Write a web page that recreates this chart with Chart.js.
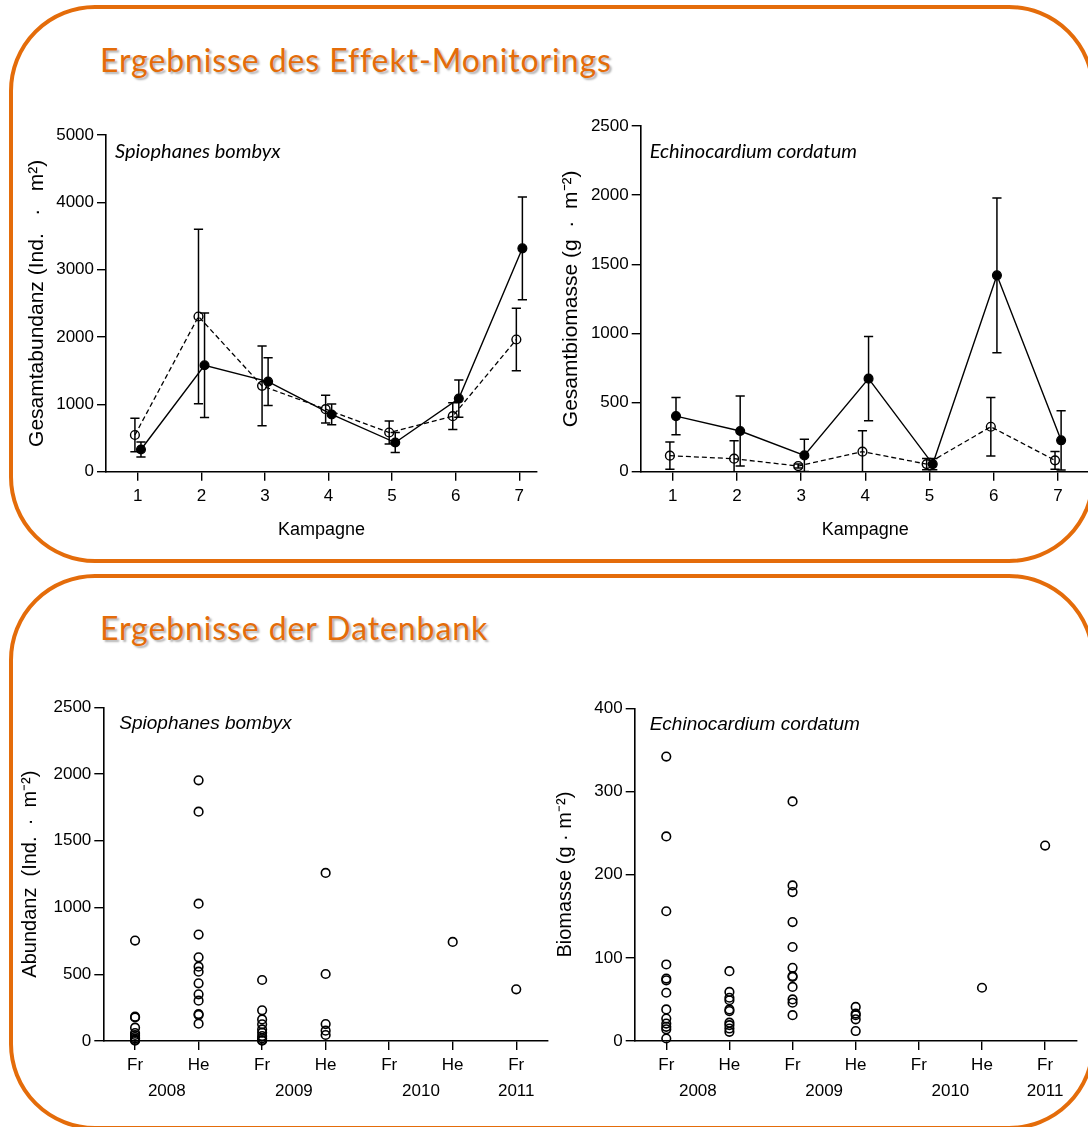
<!DOCTYPE html>
<html lang="de">
<head>
<meta charset="utf-8">
<title>Ergebnisse des Effekt-Monitorings / der Datenbank</title>
<script src="https://cdn.jsdelivr.net/npm/chart.js@4.4.1/dist/chart.umd.min.js"></script>
<style>
  html, body { margin: 0; padding: 0; background: #fff; width: 1088px; height: 1127px; overflow: hidden; position: relative; }
  .panel { position: absolute; border: 4px solid #E46C0A; border-radius: 86px; box-sizing: border-box; }
  .heading { position: absolute; left: 100px; margin: 0; font-family: Lato, "Open Sans", sans-serif; font-weight: normal;
             font-size: 32px; letter-spacing: 0.9px; line-height: 1; color: #E46C0A;
             text-shadow: 2px 2px 2px rgba(0, 0, 0, 0.3); white-space: nowrap; }
  .plot { position: absolute; }
</style>
</head>
<body>

<div class="panel" style="left:9px; top:5px; width:1086px; height:558px"></div>
<div class="panel" style="left:9px; top:574px; width:1086px; height:556px"></div>

<h1 class="heading" style="top:44px">Ergebnisse des Effekt-Monitorings</h1>
<h1 class="heading" style="top:612px">Ergebnisse der Datenbank</h1>

<canvas id="spioMonitoring" class="plot" width="540" height="455" style="left:20px; top:100px"></canvas>
<canvas id="echiMonitoring" class="plot" width="560" height="455" style="left:550px; top:100px"></canvas>
<canvas id="spioDatenbank" class="plot" width="550" height="430" style="left:14px; top:680px"></canvas>
<canvas id="echiDatenbank" class="plot" width="540" height="430" style="left:548px; top:680px"></canvas>

<script>
// =============================================================
// Effekt-Monitoring: Mittelwert ± SD je Kampagne
// (gefuellt = durchgezogene Linie, offen = gestrichelte Linie)
// =============================================================
const kampagnen = [1, 2, 3, 4, 5, 6, 7];

const spioGefuellt   = [330, 1580, 1338, 850, 433, 1086, 3317];
const spioGefuelltSd = [111, 775, 354, 154, 149, 277, 763];
const spioOffen      = [545, 2305, 1275, 929, 582, 825, 1963];
const spioOffenSd    = [248, 1295, 592, 206, 171, 200, 463];

const echiGefuellt   = [402, 294, 118, 673, 55, 1420, 227];
const echiGefuelltSd = [135, 253, 116, 304, 41, 560, 214];
const echiOffen      = [116, 94, 41, 145, 55, 325, 82];
const echiOffenSd    = [98, 130, 15, 152, 41, 212, 64];

const spioAbundanzTicks = [0, 1000, 2000, 3000, 4000, 5000];
const echiBiomasseTicks = [0, 500, 1000, 1500, 2000, 2500];

// =============================================================
// Datenbank: Einzelwerte je Probenahme (Fr = Fruehjahr, He = Herbst)
// =============================================================
const saisonLabels = ["Fr", "He", "Fr", "He", "Fr", "He", "Fr"];
const jahrLabels = ["2008", "2009", "2010", "2011"];
const jahrPositionen = [0.5, 2.5, 4.5, 6];

const spioDatenbankWerte = [
  [752, 182, 176, 100, 60, 45, 30, 18, 8, 2],
  [1953, 1718, 1029, 797, 627, 557, 519, 432, 350, 302, 202, 195, 130],
  [457, 230, 162, 125, 87, 62, 37, 20, 7, 2],
  [1259, 502, 127, 77, 45],
  [],
  [742],
  [387],
];
const echiDatenbankWerte = [
  [342, 246, 156, 92, 75, 73, 58, 38, 27, 21, 17, 14, 3],
  [84, 59, 52, 49, 38, 36, 22, 19, 15, 11],
  [288, 187, 179, 143, 113, 88, 78, 77, 65, 50, 46, 31],
  [41, 33, 31, 26, 12],
  [],
  [64],
  [235],
];

const spioDatenbankTicks = [0, 500, 1000, 1500, 2000, 2500];
const echiDatenbankTicks = [0, 100, 200, 300, 400];

// =============================================================
// Stil
// =============================================================
const axisFont = "'Liberation Sans', Arial, sans-serif";
const tickFont = { family: axisFont, size: 17 };
const xTitleFont = { family: axisFont, size: 18 };
const shiftOffen = -0.045;    // Punkte leicht versetzt, wie in der Vorlage
const shiftGefuellt = 0.05;

// Fehlerbalken aus dataset.errorSd, ueber die Skalen gezeichnet
const errorBarsPlugin = {
  id: "errorBars",
  beforeDatasetsDraw(chart) {
    const { ctx, chartArea, scales } = chart;
    const cap = 4.6;
    ctx.save();
    ctx.beginPath();
    ctx.rect(chartArea.left, chartArea.top - 2, chartArea.right - chartArea.left, chartArea.bottom - chartArea.top + 2);
    ctx.clip();
    ctx.strokeStyle = "#000";
    ctx.lineWidth = 1.5;
    chart.data.datasets.forEach((ds) => {
      if (!ds.errorSd) return;
      ds.data.forEach((p, j) => {
        const x = scales.x.getPixelForValue(p.x);
        const yTop = scales.y.getPixelForValue(p.y + ds.errorSd[j]);
        const yBot = scales.y.getPixelForValue(p.y - ds.errorSd[j]);
        ctx.beginPath();
        ctx.moveTo(x, yTop); ctx.lineTo(x, yBot);
        ctx.moveTo(x - cap, yTop); ctx.lineTo(x + cap, yTop);
        ctx.moveTo(x - cap, yBot); ctx.lineTo(x + cap, yBot);
        ctx.stroke();
      });
    });
    ctx.restore();
  },
};

// Artname kursiv oben links im Diagramm
function speciesPlugin(text, font, dx, dy) {
  return {
    id: "species",
    afterDraw(chart) {
      const { ctx, chartArea } = chart;
      ctx.save();
      ctx.font = font;
      ctx.fillStyle = "#000";
      ctx.textAlign = "left";
      ctx.textBaseline = "middle";
      ctx.fillText(text, chartArea.left + dx, chartArea.top + dy);
      ctx.restore();
    },
  };
}

// Jahreszahlen unter den Fr/He-Beschriftungen
const yearPlugin = {
  id: "years",
  afterDraw(chart) {
    const { ctx, chartArea, scales } = chart;
    ctx.save();
    ctx.font = "17px " + axisFont;
    ctx.fillStyle = "#000";
    ctx.textAlign = "center";
    ctx.textBaseline = "middle";
    jahrLabels.forEach((t, i) => {
      ctx.fillText(t, scales.x.getPixelForValue(jahrPositionen[i]), chartArea.bottom + 50);
    });
    ctx.restore();
  },
};

// Achsen: Groesse fest, damit die Diagrammflaeche wie in der Vorlage liegt
function makeScales(cfg) {
  return {
    x: {
      type: "linear",
      min: cfg.xMin,
      max: cfg.xMax,
      afterBuildTicks: (s) => { s.ticks = cfg.xTicks.map((v) => ({ value: v })); },
      afterFit: (s) => { s.height = cfg.xHeight; },
      grid: { drawOnChartArea: false, drawTicks: true, tickLength: 9, color: "#000", lineWidth: 1.4 },
      border: { display: true, color: "#000", width: 1.6 },
      ticks: { color: "#000", font: tickFont, padding: 5, maxRotation: 0, autoSkip: false, callback: cfg.xLabel },
      title: {
        display: !!cfg.xTitle,
        text: cfg.xTitle || "",
        color: "#000",
        font: xTitleFont,
        padding: { top: 0, bottom: 14 },
      },
    },
    y: {
      type: "linear",
      min: cfg.yTicks[0],
      max: cfg.yTicks[cfg.yTicks.length - 1],
      afterBuildTicks: (s) => { s.ticks = cfg.yTicks.map((v) => ({ value: v })); },
      afterFit: (s) => { s.width = cfg.yWidth; },
      grid: { drawOnChartArea: false, drawTicks: true, tickLength: 9, color: "#000", lineWidth: 1.4 },
      border: { display: true, color: "#000", width: 1.6 },
      ticks: { color: "#000", font: tickFont, padding: 3, callback: (v) => String(v) },
      title: {
        display: true,
        text: cfg.yTitle,
        color: "#000",
        font: { family: axisFont, size: cfg.yTitleSize },
        padding: { top: cfg.yTitlePad, bottom: 0 },
      },
    },
  };
}

// =============================================================
// Monitoring-Diagramme (Linien mit Fehlerbalken)
// =============================================================
function renderMonitoring(id, gefuellt, gefuelltSd, offen, offenSd, cfg) {
  const pointsOf = (values, shift) => values.map((v, i) => ({ x: kampagnen[i] + shift, y: v }));
  new Chart(document.getElementById(id), {
    type: "line",
    data: {
      datasets: [
        {
          data: pointsOf(gefuellt, shiftGefuellt),
          errorSd: gefuelltSd,
          borderColor: "#000",
          borderWidth: 1.4,
          pointRadius: 4.4,
          pointBorderWidth: 1.3,
          pointBackgroundColor: "#000",
          pointBorderColor: "#000",
          tension: 0,
          clip: false,
        },
        {
          data: pointsOf(offen, shiftOffen),
          errorSd: offenSd,
          borderColor: "#000",
          borderWidth: 1.3,
          borderDash: [5, 3],
          pointRadius: 4.4,
          pointBorderWidth: 1.4,
          pointBackgroundColor: "rgba(0,0,0,0)",
          pointBorderColor: "#000",
          tension: 0,
          clip: false,
        },
      ],
    },
    options: {
      responsive: false,
      animation: false,
      layout: { padding: { top: cfg.padTop, right: cfg.padRight, left: 0, bottom: 0 } },
      plugins: { legend: { display: false }, tooltip: { enabled: false } },
      scales: makeScales(cfg),
    },
    plugins: [errorBarsPlugin, speciesPlugin(cfg.species, "italic 20px Lato, 'Open Sans', sans-serif", 9, cfg.speciesDy)],
  });
}

// =============================================================
// Datenbank-Diagramme (offene Kreise je Probenahme)
// =============================================================
function renderDatenbank(id, werte, cfg) {
  const points = [];
  werte.forEach((gruppe, i) => gruppe.forEach((v) => points.push({ x: i, y: v })));
  new Chart(document.getElementById(id), {
    type: "scatter",
    data: {
      datasets: [
        {
          data: points,
          pointRadius: 4.3,
          pointBorderWidth: 1.6,
          pointBackgroundColor: "rgba(0,0,0,0)",
          pointBorderColor: "#000",
          clip: false,
        },
      ],
    },
    options: {
      responsive: false,
      animation: false,
      layout: { padding: { top: cfg.padTop, right: cfg.padRight, left: 0, bottom: 0 } },
      plugins: { legend: { display: false }, tooltip: { enabled: false } },
      scales: makeScales(cfg),
    },
    plugins: [yearPlugin, speciesPlugin(cfg.species, "italic 19px " + axisFont, cfg.speciesDx, 16)],
  });
}

renderMonitoring("spioMonitoring", spioGefuellt, spioGefuelltSd, spioOffen, spioOffenSd, {
  xMin: 0.5, xMax: 7.28, xTicks: kampagnen, xLabel: (v) => String(v), xTitle: "Kampagne", xHeight: 83.3,
  yTicks: spioAbundanzTicks, yWidth: 86, yTitle: "Gesamtabundanz (Ind.   ·   m²)", yTitleSize: 21, yTitlePad: 4.4,
  padTop: 35, padRight: 23, species: "Spiophanes bombyx", speciesDy: 17,
});

renderMonitoring("echiMonitoring", echiGefuellt, echiGefuelltSd, echiOffen, echiOffenSd, {
  xMin: 0.5, xMax: 7.5, xTicks: kampagnen, xLabel: (v) => String(v), xTitle: "Kampagne", xHeight: 83.3,
  yTicks: echiBiomasseTicks, yWidth: 90.7, yTitle: "Gesamtbiomasse (g  ·  m⁻²)", yTitleSize: 21, yTitlePad: 8.4,
  padTop: 26, padRight: 20, species: "Echinocardium cordatum", speciesDy: 26,
});

renderDatenbank("spioDatenbank", spioDatenbankWerte, {
  xMin: -0.5, xMax: 6.5, xTicks: [0, 1, 2, 3, 4, 5, 6], xLabel: (v) => saisonLabels[v], xTitle: "", xHeight: 69,
  yTicks: spioDatenbankTicks, yWidth: 89.3, yTitle: "Abundanz  (Ind.  ·  m⁻²)", yTitleSize: 20, yTitlePad: 4,
  padTop: 27.3, padRight: 16, species: "Spiophanes bombyx", speciesDx: 16,
});

renderDatenbank("echiDatenbank", echiDatenbankWerte, {
  xMin: -0.5, xMax: 6.5, xTicks: [0, 1, 2, 3, 4, 5, 6], xLabel: (v) => saisonLabels[v], xTitle: "", xHeight: 69,
  yTicks: echiDatenbankTicks, yWidth: 86.7, yTitle: "Biomasse (g · m⁻²)", yTitleSize: 20, yTitlePad: 5,
  padTop: 28.3, padRight: 11.3, species: "Echinocardium cordatum", speciesDx: 15,
});
</script>
</body>
</html>
